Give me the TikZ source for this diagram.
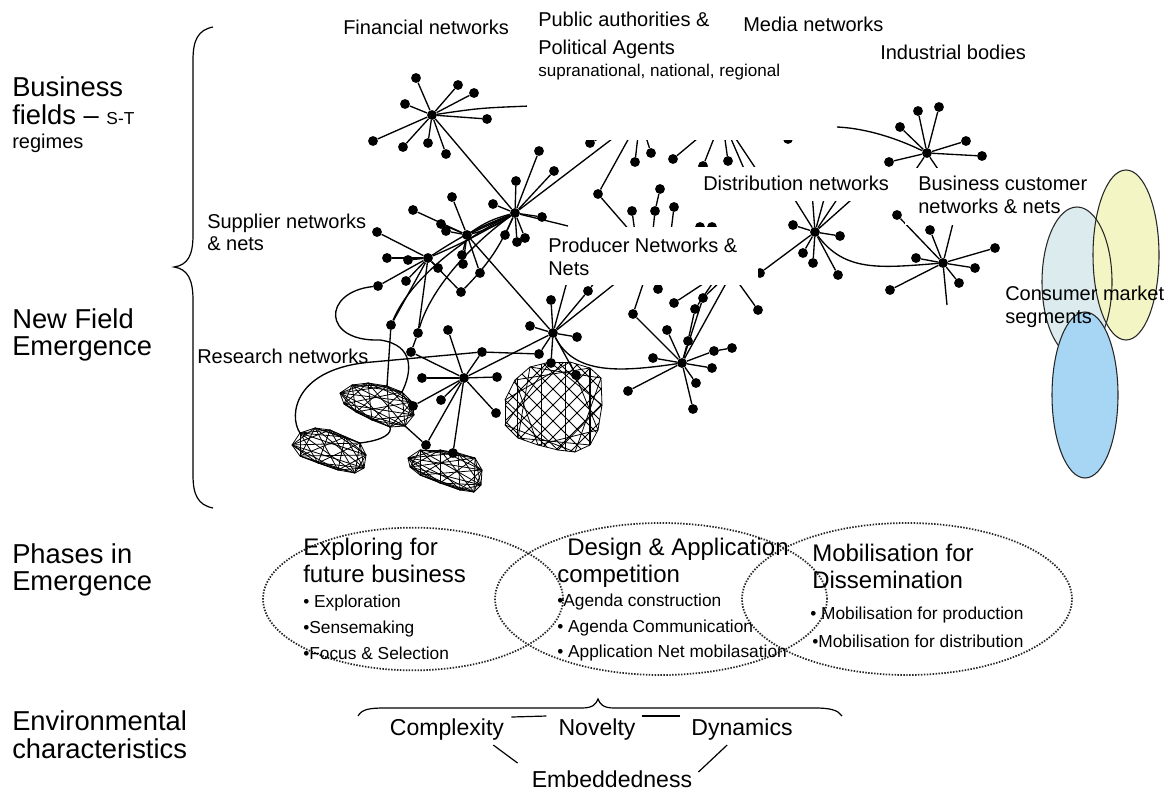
\documentclass[tikz,border=0pt]{standalone}
\usepackage{fontspec}
\setmainfont{Liberation Sans}
\usetikzlibrary{shapes.geometric}
\newcommand\starnet[3]{%
  \node[dot] (#1) at #2 {};%
  \foreach \p [count=\i] in {#3}{\node[dot] (#1-\i) at \p {};\draw[net] (#1) -- (#1-\i);}%
}
\newcommand\meshblob[4]{%
  \foreach \p [count=\i] in {#4}{\node[coordinate] (#1-\i) at \p {};}%
  \foreach \i in {1,...,#2}{\foreach \k in {#3}{%
    \pgfmathtruncatemacro\jj{mod(\i+\k-1,#2)+1}%
    \draw[mesh] (#1-\i) -- (#1-\jj);}}%
}
\definecolor{ylw}{HTML}{F3F6C4}
\definecolor{pale}{HTML}{DBEBEE}
\definecolor{blu}{HTML}{A6D6F4}
\begin{document}
\begin{tikzpicture}[x=0.75pt,y=-0.75pt,
  dot/.style={circle,fill=black,inner sep=0pt,minimum size=7.4pt},
  net/.style={line width=1pt},
  mesh/.style={line width=0.6pt},
  biglbl/.style={font=\fontsize{20.5}{20.5}\selectfont,anchor=base west,inner sep=0pt},
  netlbl/.style={font=\fontsize{15}{15}\selectfont,anchor=base west,inner sep=0pt},
  smlbl/.style={font=\fontsize{12.8}{12.8}\selectfont,anchor=base west,inner sep=0pt},
  phtitle/.style={font=\fontsize{18}{18}\selectfont,anchor=base west,inner sep=0pt},
  phitem/.style={font=\fontsize{13}{13}\selectfont,anchor=base west,inner sep=0pt},
  envlbl/.style={font=\fontsize{17.3}{17.3}\selectfont,anchor=base,inner sep=0pt},
  phase/.style={ellipse,draw=black!85,line width=1.3pt,dash pattern=on 1.1pt off 1.1pt,inner sep=0pt},
  brc/.style={line width=0.9pt},
  ell/.style={draw=black!85,line width=0.8pt}
]
\useasboundingbox (0,0) rectangle (1171,792);
\fill[white] (0,0) rectangle (1171,792);

% ---------------- networks ----------------
\starnet{F}{(432,115)}{(416,78),(458,85),(474,93),(405,104),(487,119),(373,141),(403,147),(428,143),(446,154)}
\coordinate (Fend) at (530,106);
\draw[net] (F) .. controls (480,108) .. (Fend);

\starnet{S2}{(515,213)}{(539,151),(554,171),(516,181),(493,204),(542,217),(505,235),(517,242),(525,238)}
\draw[net] (F) -- (S2);
\coordinate (S2a) at (650,110); \draw[net] (S2) -- (S2a);
\coordinate (S2b) at (568,226); \draw[net] (S2) -- (S2b);

\starnet{S1}{(467,235)}{(452,197),(413,210),(441,224),(446,231),(462,255),(463,264),(480,273)}
\draw[net] (S1) -- (S2);
\draw[net] (S1) to[bend left=10] (S2);
\draw[net] (S1) to[bend right=10] (S2);

\starnet{S0}{(428,258)}{(377,232),(387,258),(408,260),(438,268),(406,281),(378,286),(461,292),(391,325),(418,333)}
\draw[net] (S0) to[bend left=6] (S2);
\draw[net] (S0) to[bend right=4] (S2);
\draw[net] (S0-7) to[bend right=10] (S2);
\draw[net] (S0-8) .. controls (410,280) and (460,240) .. (S2);
\draw[net] (S0-9) .. controls (430,290) and (470,245) .. (S2);

% research blobs
\meshblob{bA}{12}{1,2,3,5}{(340,393),(352,385),(368,383),(387,386),(402,392),(412,402),(414,415),(405,426),(390,427),(372,420),(356,412),(344,404)}
\meshblob{bB}{12}{1,2,3,5}{(292,445),(300,433),(315,428),(330,430),(345,437),(360,443),(366,455),(364,468),(355,473),(338,470),(318,463),(300,456)}
\meshblob{bC}{12}{1,2,3,5}{(408,458),(420,450),(440,450),(458,453),(475,458),(482,470),(481,485),(474,492),(460,490),(440,483),(420,475),(410,467)}
\meshblob{bD}{15}{1,4}{(505,400),(515,380),(530,367),(550,362),(570,362),(590,368),(601,378),(602,405),(598,430),(590,445),(575,452),(558,450),(538,445),(518,438),(505,425)}
\begin{scope}
  \clip (505,400) -- (515,380) -- (530,367) -- (550,362) -- (570,362) -- (590,368) -- (601,378) -- (602,405)
    -- (598,430) -- (590,445) -- (575,452) -- (558,450) -- (538,445) -- (518,438) -- (505,425) -- cycle;
  \foreach \c in {-112,-96,...,112}{%
    \draw[mesh] ({553+\c-60},345) -- ({553+\c+60},465);
    \draw[mesh] ({553+\c+60},345) -- ({553+\c-60},465);}
  \foreach \c in {-36,-12,12,36}{\draw[mesh] ({553+\c},355) -- ({553+\c},460);}
\end{scope}

\starnet{R1}{(464,378)}{(448,330),(422,378),(497,377),(482,352),(441,400),(496,413),(413,406),(426,445),(453,453)}
\node[dot] (Rc) at (411,352) {};
\draw[net] (S0-9) -- (Rc); \draw[net] (Rc) -- (R1);
\draw[net] (S0-8) -- (bA-4);
\coordinate (lp) at (380,340);
\draw[net] (S0-6) .. controls (322,292) and (322,342) .. (lp) .. controls (415,345) and (412,372) .. (bA-5);
\coordinate (Rl) at (372,362);
\draw[net] (bB-2) .. controls (288,415) and (295,368) .. (Rl) -- (R1-4);
\draw[net] (bB-6) .. controls (385,440) and (392,433) .. (bA-9);
\draw[net] (R1-8) -- (bA-8);

\starnet{P2}{(553,333)}{(551,300),(588,291),(530,326),(577,337),(539,354),(551,363),(576,375)}
\draw[net] (R1-4) -- (P2-5);
\draw[net] (S1) -- (P2);
\draw[net] (R1) -- (P2);
\coordinate (P2u1) at (568,278); \draw[net] (P2) -- (P2u1);
\coordinate (P2u2) at (622,278); \draw[net] (P2) -- (P2u2);
\coordinate (P2u3) at (598,278); \draw[net] (P2-2) -- (P2u3);

\starnet{P3}{(682,363)}{(633,314),(667,330),(688,341),(653,358),(712,368),(714,351),(696,383),(693,409),(628,391)}
\node[dot] (P3x) at (732,348) {}; \draw[net] (P3-6) -- (P3x);
\draw[net] (P2) .. controls (575,375) and (620,372) .. (P3);
\node[dot] (Pa) at (695,309) {};
\node[dot] (Pb) at (703,298) {};
\node[dot] (Pc) at (674,303) {};
\node[dot] (Pd) at (658,289) {};
\node[dot] (Pe) at (758,310) {};
\coordinate (pu1) at (716,278); \coordinate (pu2) at (724,278); \coordinate (pu3) at (712,278);
\coordinate (pu4) at (729,278); \coordinate (pu5) at (645,278); \coordinate (pu6) at (735,278);
\coordinate (pu7) at (661,278);
\draw[net] (P3-3) -- (Pa); \draw[net] (Pa) -- (pu1);
\draw[net] (P3) -- (Pb); \draw[net] (Pb) -- (pu2);
\draw[net] (Pc) -- (pu3); \draw[net] (P3) -- (pu4);
\draw[net] (P3-1) -- (pu5); \draw[net] (Pe) -- (pu6); \draw[net] (Pd) -- (pu7);

% hidden public authority hubs
\coordinate (h1) at (640,118); \coordinate (h2) at (722,118); \coordinate (h3) at (770,118);
\node[dot] (q1) at (598,194) {}; \node[dot] (q2) at (635,162) {}; \node[dot] (q3) at (651,153) {};
\node[dot] (q4) at (590,143) {}; \node[dot] (q5) at (673,159) {}; \node[dot] (q6) at (703,166) {};
\node[dot] (q7) at (728,161) {}; \node[dot] (q8) at (788,139) {};
\draw[net] (h1) -- (q1); \draw[net] (h1) -- (q2); \draw[net] (h1) -- (q3); \draw[net] (h1) -- (q4);
\draw[net] (h2) -- (q5); \draw[net] (h2) -- (q6); \draw[net] (h2) -- (q7); \draw[net] (h3) -- (q8);
\coordinate (qe1) at (748,178); \coordinate (qe2) at (762,178);
\draw[net] (h2) -- (qe1); \draw[net] (h2) -- (qe2);
\coordinate (qe3) at (638,240); \draw[net] (q1) -- (qe3);
\node[dot] (r1) at (632,211) {}; \node[dot] (r2) at (655,211) {}; \node[dot] (r3) at (660,189) {};
\node[dot] (r4) at (674,207) {}; \node[dot] (r5) at (700,227) {}; \node[dot] (r6) at (712,227) {};
\coordinate (re1) at (652,240); \coordinate (re2) at (670,240); \coordinate (re3) at (636,240);
\draw[net] (r3) -- (r2); \draw[net] (r2) -- (re1); \draw[net] (r4) -- (re2); \draw[net] (r1) -- (re3);

% distribution
\starnet{D}{(815,232)}{(793,225),(840,236),(803,253),(813,263),(838,275),(760,273)}
\foreach \x [count=\n] in {790,812,826,842,860}{\coordinate (du\n) at (\x,192); \draw[net] (D) -- (du\n);}
% business customer
\starnet{B}{(943,263)}{(897,215),(930,230),(995,248),(916,258),(975,268),(959,283),(890,290)}
\coordinate (bu) at (955,215); \draw[net] (B) -- (bu);
\coordinate (bd) at (947,305); \draw[net] (B) -- (bd);
\draw[net] (D) .. controls (845,272) and (880,268) .. (B);
% industrial
\starnet{I}{(927,153)}{(918,111),(939,107),(900,127),(966,141),(982,156),(889,162)}
\coordinate (id1) at (910,178); \coordinate (id2) at (944,178);
\draw[net] (I) -- (id1); \draw[net] (I) -- (id2);
\coordinate (ic) at (837,127);
\draw[net] (I) .. controls (890,135) and (860,128) .. (ic);

% label backgrounds
\fill[white] (527,-2) rectangle (836,140);
\fill[white] (690,167) rectangle (902,201);
\fill[white] (905,168) rectangle (1068,225);
\fill[white] (545,227) rectangle (758,285);

% consumer segments
\fill[pale] (1077,282) ellipse [x radius=26.25pt, y radius=56.25pt];
\fill[ylw] (1126,255) ellipse [x radius=24.75pt, y radius=63.75pt];
\draw[ell] (1077,282) ellipse [x radius=26.25pt, y radius=56.25pt];
\draw[ell] (1126,255) ellipse [x radius=24.75pt, y radius=63.75pt];
\filldraw[ell,fill=blu] (1085,395) ellipse [x radius=24.75pt, y radius=62.25pt];

% phase ellipses
\node[phase, minimum width=225pt, minimum height=107pt] (e1) at (413,599) {};
\node[phase, minimum width=249pt, minimum height=114pt] (e2) at (661,599) {};
\node[phase, minimum width=247.5pt, minimum height=114pt] (e3) at (907,599) {};

% braces
\draw[brc] (213,27) .. controls (198,30) and (193,40) .. (193,60) -- (193,235)
  .. controls (193,255) and (188,265) .. (174,267) .. controls (188,269) and (193,280) .. (193,300)
  -- (193,475) .. controls (193,495) and (198,505) .. (213,508);
\draw[brc] (358,716) .. controls (362,709) and (370,708) .. (385,708) -- (582,708)
  .. controls (593,708) and (596,704) .. (598,699) .. controls (600,704) and (603,708) .. (614,708)
  -- (815,708) .. controls (830,708) and (838,710) .. (842,716);

% ---------------- texts ----------------
\node[biglbl] (t1) at (12,97) {Business};
\node[biglbl] (t2) at (12,124) {fields -- {\fontsize{13}{13}\selectfont S-T}};
\node[netlbl] (t3) at (12,148) {regimes};
\node[biglbl] (t4) at (12,328) {New Field};
\node[biglbl] (t5) at (12,355) {Emergence};
\node[biglbl] (t6) at (12,563) {Phases in};
\node[biglbl] (t7) at (12,590) {Emergence};
\node[biglbl] (t8) at (12,730) {Environmental};
\node[biglbl] (t9) at (12,758) {characteristics};

\node[netlbl] (n1) at (343,35) {Financial networks};
\node[netlbl] (n2) at (538,27) {Public authorities \&};
\node[netlbl] (n3) at (538,55) {Political Agents};
\node[smlbl] (n4) at (538,77) {supranational, national, regional};
\node[netlbl] (n5) at (743,32) {Media networks};
\node[netlbl] (n6) at (880,60) {Industrial bodies};
\node[netlbl] (n7) at (703,190) {Distribution networks};
\node[netlbl] (n8) at (918,190) {Business customer};
\node[netlbl] (n9) at (918,213) {networks \& nets};
\node[netlbl] (n10) at (207,228) {Supplier networks};
\node[netlbl] (n11) at (207,250) {\& nets};
\node[netlbl] (n12) at (548,252) {Producer Networks \&};
\node[netlbl] (n13) at (548,275) {Nets};
\node[netlbl] (n14) at (197,363) {Research networks};
\node[netlbl] (n15) at (1005,300) {Consumer market};
\node[netlbl] (n16) at (1005,323) {segments};

\node[phtitle] (p1) at (303,555) {Exploring for};
\node[phtitle] (p2) at (303,582) {future business};
\node[phitem] (p3) at (303,607) {• Exploration};
\node[phitem] (p4) at (303,633) {•Sensemaking};
\node[phitem] (p5) at (303,659) {•Focus \& Selection};
\node[phtitle] (p6) at (567,555) {Design \& Application};
\node[phtitle] (p7) at (557,582) {competition};
\node[phitem] (p8) at (557,606) {•Agenda construction};
\node[phitem] (p9) at (557,632) {• Agenda Communication};
\node[phitem] (p10) at (557,657) {• Application Net mobilasation};
\node[phtitle] (p11) at (812,561) {Mobilisation for};
\node[phtitle] (p12) at (812,588) {Dissemination};
\node[phitem] (p13) at (810,619) {• Mobilisation for production};
\node[phitem] (p14) at (812,647) {•Mobilisation for distribution};

\node[envlbl] (cx) at (447,735) {Complexity};
\node[envlbl] (nv) at (597,735) {Novelty};
\node[envlbl] (dy) at (742,735) {Dynamics};
\node[envlbl] (em) at (612,787) {Embeddedness};
\draw[brc] ([shift={(7,-1)}]cx.north east) -- ([shift={(-12,-2)}]nv.north west);
\draw[brc] ([shift={(6,-2)}]nv.north east) -- ([shift={(-11,-2)}]dy.north west);
\draw[brc] ([shift={(-11,5)}]cx.south east) -- ([shift={(-14,-7)}]em.north west);
\draw[brc] ([shift={(36,5)}]dy.south west) -- ([shift={(6,2)}]em.north east);
\end{tikzpicture}
\end{document}
